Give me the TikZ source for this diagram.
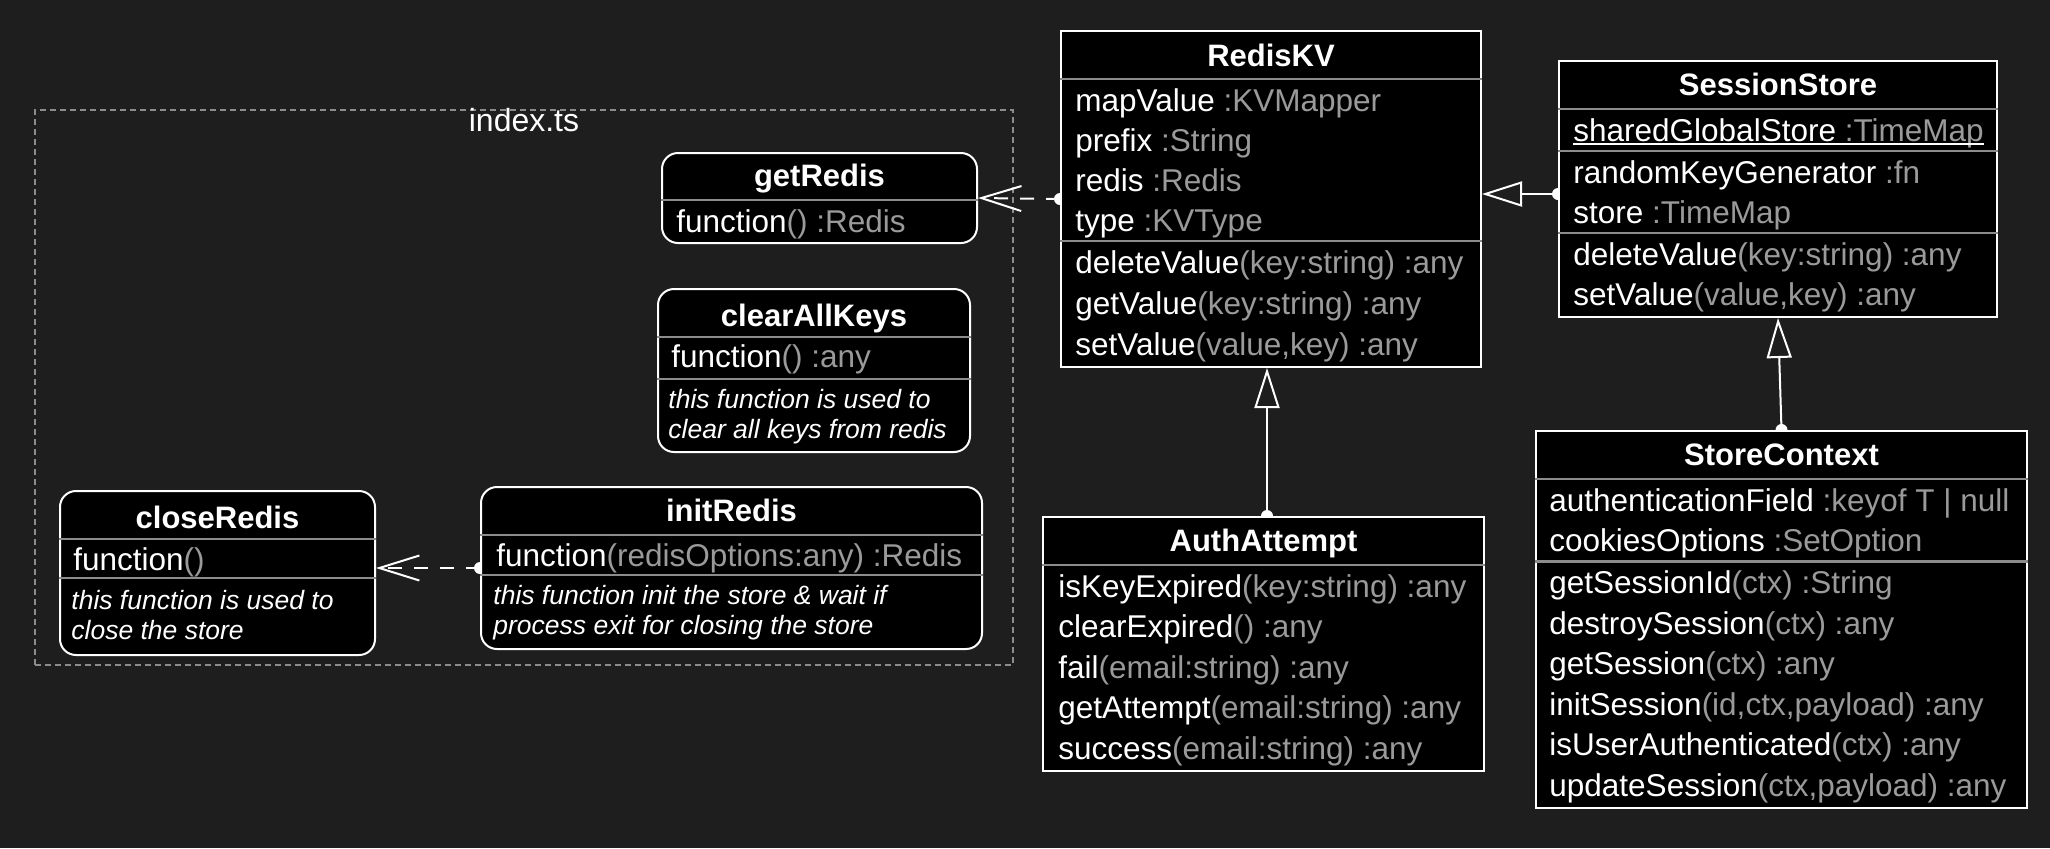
\documentclass[tikz,border=0pt]{standalone}
\usepackage{fontspec}
\setmainfont{Liberation Sans}
\usepackage{xcolor}
\usepackage{tikz}
\usetikzlibrary{arrows.meta,fit,positioning}

\definecolor{canvas}{HTML}{1E1E1E}
\definecolor{typegray}{HTML}{9A9A9A}
\definecolor{linegray}{HTML}{8C8C8C}

\newcommand{\fld}[2]{#1\textcolor{typegray}{#2}}

\pgfdeclarelayer{bg}
\pgfdeclarelayer{edges}
\pgfsetlayers{bg,edges,main}

\begin{document}
\begin{tikzpicture}
    [x=0.5pt,y=-0.5pt,
     class box/.style={draw=white,line width=1pt,fill=black,inner sep=0pt},
     fn box/.style={class box,rounded corners=8pt},
     sep line/.style={draw=linegray,line width=1.1pt},
     title/.style={anchor=base,inner sep=0pt,text=white,font=\fontsize{15.5}{18}\selectfont\bfseries},
     row/.style={anchor=base west,inner sep=0pt,text=white,font=\fontsize{15.75}{18}\selectfont},
     note/.style={anchor=base west,inner sep=0pt,text=white,font=\fontsize{13.25}{16}\selectfont\itshape},
     dep/.style={draw=white,line width=1pt,dash pattern=on 7pt off 6pt,-{Straight Barb[length=20pt,width=12.5pt]}},
     ext/.style={draw=white,line width=1pt,-{Triangle[open,length=20pt,width=12.5pt]}},
     src dot/.style={fill=white}]
    \useasboundingbox (0,0) rectangle (2050,848);
    \begin{pgfonlayer}{bg}
        \fill[canvas] (0,0) rectangle (2050,848);
        \node[draw=linegray,line width=0.75pt,dash pattern=on 3pt off 2pt,inner sep=0pt,fit={(35,110) (1013,665)}] (indexts) {};
    \end{pgfonlayer}
    \node[row,anchor=base,font=\fontsize{16}{18}\selectfont] (indexlabel) at (indexts.north |- 0,131) {index.ts};

    % getRedis
    \node[fn box,fit={(662,153) (977,243)}] (getredis) {};
    \node[title] (getredist) at (getredis.north |- 0,186) {getRedis};
    \draw[sep line] (getredis.west |- 0,200) -- (getredis.east |- 0,200);
    \node[row] (getredisf) at (676,232) {\fld{function}{()\ :Redis}};

    % clearAllKeys
    \node[fn box,fit={(658,289) (970,452)}] (clearkeys) {};
    \node[title] (clearkeyst) at (clearkeys.north |- 0,326) {clearAllKeys};
    \draw[sep line] (clearkeys.west |- 0,337) -- (clearkeys.east |- 0,337);
    \node[row] (clearkeysf) at (671,367) {\fld{function}{()\ :any}};
    \draw[sep line] (clearkeys.west |- 0,379) -- (clearkeys.east |- 0,379);
    \node[note] (clearkeysn1) at (668,408) {this function is used to};
    \node[note] (clearkeysn2) at (668,438) {clear all keys from redis};

    % closeRedis
    \node[fn box,fit={(60,491) (375,655)}] (closeredis) {};
    \node[title] (closeredist) at (closeredis.north |- 0,528) {closeRedis};
    \draw[sep line] (closeredis.west |- 0,539) -- (closeredis.east |- 0,539);
    \node[row] (closeredisf) at (73,570) {\fld{function}{()}};
    \draw[sep line] (closeredis.west |- 0,578) -- (closeredis.east |- 0,578);
    \node[note] (closeredisn1) at (71,609) {this function is used to};
    \node[note] (closeredisn2) at (71,639) {close the store};

    % initRedis
    \node[fn box,fit={(481,487) (982,649)}] (initredis) {};
    \node[title] (initredist) at (initredis.north |- 0,521) {initRedis};
    \draw[sep line] (initredis.west |- 0,535) -- (initredis.east |- 0,535);
    \node[row] (initredisf) at (496,566) {\fld{function}{(redisOptions:any)\ :Redis}};
    \draw[sep line] (initredis.west |- 0,575) -- (initredis.east |- 0,575);
    \node[note] (initredisn1) at (493,604) {this function init the store \& wait if};
    \node[note] (initredisn2) at (493,634) {process exit for closing the store};

    % RedisKV
    \node[class box,fit={(1061,31) (1481,367)}] (rediskv) {};
    \node[title] (rediskvt) at (rediskv.north |- 0,66) {RedisKV};
    \draw[sep line] (rediskv.west |- 0,79) -- (rediskv.east |- 0,79);
    \node[row] (rkv1) at (1075,111) {\fld{mapValue}{\ :KVMapper}};
    \node[row] (rkv2) at (1075,151) {\fld{prefix}{\ :String}};
    \node[row] (rkv3) at (1075,191) {\fld{redis}{\ :Redis}};
    \node[row] (rkv4) at (1075,231) {\fld{type}{\ :KVType}};
    \draw[sep line] (rediskv.west |- 0,241) -- (rediskv.east |- 0,241);
    \node[row] (rkv5) at (1075,273) {\fld{deleteValue}{(key:string)\ :any}};
    \node[row] (rkv6) at (1075,314) {\fld{getValue}{(key:string)\ :any}};
    \node[row] (rkv7) at (1075,355) {\fld{setValue}{(value,key)\ :any}};

    % SessionStore
    \node[class box,fit={(1559,61) (1997,317)}] (sessionstore) {};
    \node[title] (sessionstoret) at (sessionstore.north |- 0,95) {SessionStore};
    \draw[sep line] (sessionstore.west |- 0,109) -- (sessionstore.east |- 0,109);
    \node[row] (ss1) at (1573,141) {\fld{sharedGlobalStore}{\ :TimeMap}};
    \draw[white,line width=0.8pt] ([yshift=-1.6pt]ss1.base west) -- ([yshift=-1.6pt]ss1.base east);
    \draw[sep line] (sessionstore.west |- 0,151) -- (sessionstore.east |- 0,151);
    \node[row] (ss2) at (1573,183) {\fld{randomKeyGenerator}{\ :fn}};
    \node[row] (ss3) at (1573,223) {\fld{store}{\ :TimeMap}};
    \draw[sep line] (sessionstore.west |- 0,233) -- (sessionstore.east |- 0,233);
    \node[row] (ss4) at (1573,265) {\fld{deleteValue}{(key:string)\ :any}};
    \node[row] (ss5) at (1573,305) {\fld{setValue}{(value,key)\ :any}};

    % AuthAttempt
    \node[class box,fit={(1043,517) (1484,771)}] (authattempt) {};
    \node[title] (authattemptt) at (authattempt.north |- 0,551) {AuthAttempt};
    \draw[sep line] (authattempt.west |- 0,565) -- (authattempt.east |- 0,565);
    \node[row] (aa1) at (1058,597) {\fld{isKeyExpired}{(key:string)\ :any}};
    \node[row] (aa2) at (1058,637.5) {\fld{clearExpired}{()\ :any}};
    \node[row] (aa3) at (1058,678) {\fld{fail}{(email:string)\ :any}};
    \node[row] (aa4) at (1058,718.5) {\fld{getAttempt}{(email:string)\ :any}};
    \node[row] (aa5) at (1058,759) {\fld{success}{(email:string)\ :any}};

    % StoreContext
    \node[class box,fit={(1536,431) (2027,808)}] (storecontext) {};
    \node[title] (storecontextt) at (storecontext.north |- 0,465) {StoreContext};
    \draw[sep line] (storecontext.west |- 0,479) -- (storecontext.east |- 0,479);
    \node[row] (sc1) at (1549,511) {\fld{authenticationField}{\ :keyof T | null}};
    \node[row] (sc2) at (1549,551.5) {\fld{cookiesOptions}{\ :SetOption}};
    \draw[sep line] (storecontext.west |- 0,561.5) -- (storecontext.east |- 0,561.5);
    \node[row] (sc3) at (1549,593.5) {\fld{getSessionId}{(ctx)\ :String}};
    \node[row] (sc4) at (1549,634) {\fld{destroySession}{(ctx)\ :any}};
    \node[row] (sc5) at (1549,674.5) {\fld{getSession}{(ctx)\ :any}};
    \node[row] (sc6) at (1549,715) {\fld{initSession}{(id,ctx,payload)\ :any}};
    \node[row] (sc7) at (1549,755.5) {\fld{isUserAuthenticated}{(ctx)\ :any}};
    \node[row] (sc8) at (1549,796) {\fld{updateSession}{(ctx,payload)\ :any}};

    % connectors
    \begin{pgfonlayer}{edges}
        \draw[dep] (rediskv.west) -- (getredis.east);
        \fill[src dot] (rediskv.west) circle[radius=3pt];
        \draw[dep] (initredis.west) -- (initredis.west -| closeredis.east);
        \fill[src dot] (initredis.west) circle[radius=3pt];
        \coordinate (ssout) at (sessionstore.west |- 0,194);
        \draw[ext] (ssout) -- (ssout -| rediskv.east);
        \fill[src dot] (ssout) circle[radius=3pt];
        \coordinate (aaout) at (authattempt.north -| 1267,0);
        \draw[ext] (aaout) -- (aaout |- rediskv.south);
        \fill[src dot] (aaout) circle[radius=3pt];
        \draw[ext] (storecontext.north) -- (sessionstore.south);
        \fill[src dot] (storecontext.north) circle[radius=3pt];
    \end{pgfonlayer}
\end{tikzpicture}
\end{document}
